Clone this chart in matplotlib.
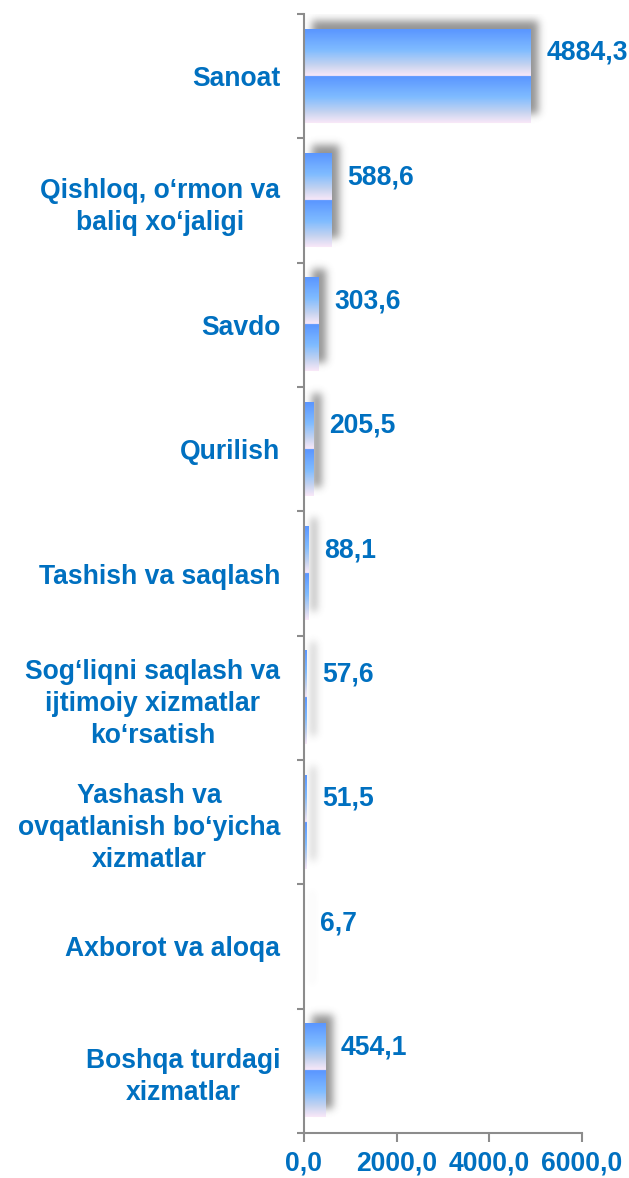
import numpy as np
import matplotlib.pyplot as plt
from matplotlib.colors import LinearSegmentedColormap

# data
categories = ["Sanoat",
              "Qishloq, o‘rmon va\nbaliq xo‘jaligi",
              "Savdo",
              "Qurilish",
              "Tashish va saqlash",
              "Sog‘liqni saqlash va\nijtimoiy xizmatlar\nko‘rsatish",
              "Yashash va\novqatlanish bo‘yicha\nxizmatlar",
              "Axborot va aloqa",
              "Boshqa turdagi\nxizmatlar"]
values = [4884.3, 588.6, 303.6, 205.5, 88.1, 57.6, 51.5, 6.7, 454.1]
xticks = [0, 2000, 4000, 6000]

blue = '#0070C0'
axis_gray = '#8C8C8C'
font = ['Liberation Sans', 'DejaVu Sans']
fs = 19.1

W, H = 629, 1178
fig = plt.figure(figsize=(W / 100, H / 100), dpi=100)
ax = fig.add_axes([304 / W, 1 - 1133 / H, 278 / W, (1133 - 14) / H])

n = len(values)
pos = np.arange(n)
bars = ax.barh(pos, values, height=0.75, color='none', edgecolor='none')
xmin, xmax = 0, 6000
ylo, yhi = n - 0.5, -0.5

# data units per pixel
ax_w, ax_h = 278, 1119
dx = (xmax - xmin) / ax_w
dy = n / ax_h

# blurred drop shadow, offset right and up
sc = 2
xs = xmin + (np.arange(ax_w * sc) + 0.5) / sc * dx
ys = yhi + (np.arange(ax_h * sc) + 0.5) / sc * dy
half = dx / sc / 2
mask = np.zeros((ax_h * sc, ax_w * sc))
for b in bars:
    x0 = b.get_x() + 8 * dx
    x1 = b.get_x() + b.get_width() + 8 * dx
    y0 = b.get_y() - 9 * dy
    y1 = b.get_y() + b.get_height() - 9 * dy
    cov = np.clip((np.minimum(xs + half, x1) - np.maximum(xs - half, x0)) / (2 * half), 0, 1)
    rows = (ys >= y0) & (ys <= y1)
    mask[rows, :] = np.maximum(mask[rows, :], cov)


def blur(a, sigma, axis):
    r = int(3 * sigma)
    k = np.exp(-0.5 * (np.arange(-r, r + 1) / sigma) ** 2)
    k /= k.sum()
    return np.apply_along_axis(lambda m: np.convolve(m, k, mode='same'), axis, a)


mask = blur(blur(mask, 4 * sc, 0), 4 * sc, 1)
shadow = np.zeros(mask.shape + (4,))
shadow[..., :3] = 0.3
shadow[..., 3] = np.clip(mask, 0, 1) * 0.6
ax.imshow(shadow, extent=(xmin, xmax, ylo, yhi), origin='upper',
          aspect='auto', interpolation='bilinear', zorder=1)

# gradient fill, repeated twice per bar
cmap = LinearSegmentedColormap.from_list(
    'grad', [(0.0, '#5A96FF'), (0.45, '#80BCFF'), (0.78, '#C8D4F0'), (1.0, '#F8E8F8')])
g = np.linspace(0, 1, 64)
grad = np.concatenate([g, g]).reshape(-1, 1)
for b in bars:
    ax.imshow(grad, cmap=cmap, origin='upper', aspect='auto', interpolation='bilinear',
              extent=(b.get_x(), b.get_x() + b.get_width(),
                      b.get_y() + b.get_height(), b.get_y()), zorder=2)

# value labels
for b, v in zip(bars, values):
    ax.annotate(f"{v:.1f}".replace('.', ','),
                xy=(b.get_x() + b.get_width(), b.get_y() + b.get_height() / 4),
                xytext=(16, 0), textcoords='offset pixels', va='center', ha='left',
                color=blue, fontsize=fs, fontweight='bold', family=font)

ax.set_xlim(xmin, xmax)
ax.set_ylim(ylo, yhi)

ax.set_yticks(pos)
ax.set_yticklabels(categories, color=blue, fontsize=fs, fontweight='bold', family=font,
                   linespacing=1.3)
for lab in ax.get_yticklabels():
    lab.set_multialignment('center')
ax.set_yticks(np.arange(n + 1) - 0.5, minor=True)
ax.tick_params(axis='y', which='major', length=0, pad=17)
ax.tick_params(axis='y', which='minor', length=5, width=1.5, color=axis_gray)

ax.set_xticks(xticks)
ax.set_xticklabels([f"{t:.1f}".replace('.', ',') for t in xticks], color=blue,
                   fontsize=fs, fontweight='bold', family=font)
ax.tick_params(axis='x', length=6.5, width=1.5, color=axis_gray, pad=6)

for s in ['top', 'right']:
    ax.spines[s].set_visible(False)
for s in ['left', 'bottom']:
    ax.spines[s].set_color(axis_gray)
    ax.spines[s].set_linewidth(1.5)

fig.savefig('out.png', dpi=100)
